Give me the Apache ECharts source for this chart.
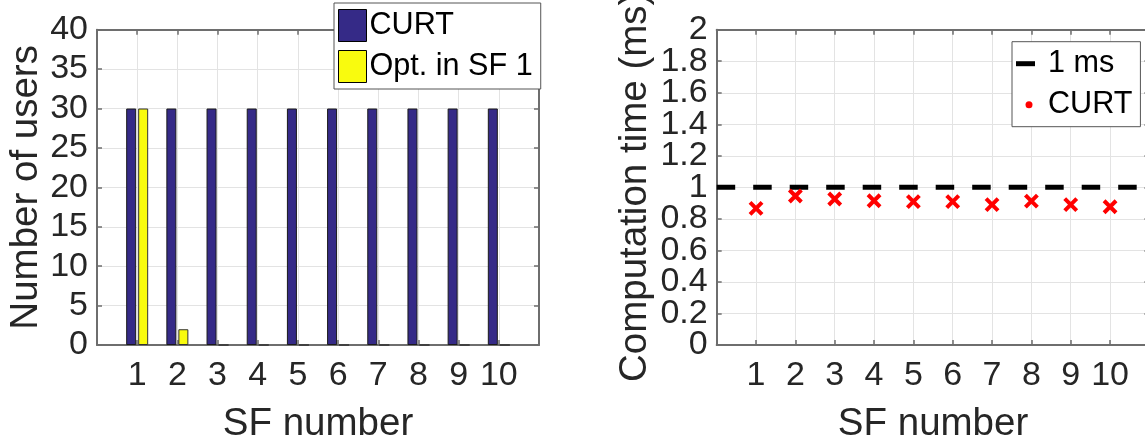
<!DOCTYPE html>
<html><head><meta charset="utf-8">
<script src="https://cdn.jsdelivr.net/npm/echarts@6/dist/echarts.min.js"></script>
<style>html,body{margin:0;padding:0;background:#fff}#c{width:1145px;height:447px}</style>
</head><body><div id="c"></div>
<script>
// ---- data ----
const sfNumbers = ['1','2','3','4','5','6','7','8','9','10'];
const curtUsers = [30,30,30,30,30,30,30,30,30,30];
const optUsers  = [30,2,0,0,0,0,0,0,0,0];
const curtTimes = [0.867,0.945,0.926,0.915,0.909,0.909,0.890,0.913,0.890,0.877];
const thresholdMs = 1;
const usersAxis = {min:0, max:40, interval:5};
const timeAxis  = {min:0, max:2, interval:0.2};

// padded category axis: an empty slot at each end so the axis spans 0..11
const xCats = [''].concat(sfNumbers, ['']);
const pad = arr => [null].concat(arr, [null]);

const FONT = 'Liberation Sans, Arial, Helvetica, sans-serif';
const AX = '#6e6e6e', TXT = '#262626', GRID = '#e3e3e3';
const TICK = 34, LABEL = 38.5, LEG = 30.6;
const fmtNum = v => String(Math.round(v * 1000) / 1000);

function xAx(gi, pos, show) {
  return {
    type:'category', gridIndex:gi, position:pos, data:xCats, boundaryGap:false,
    axisLine:{show:true, onZero:false, lineStyle:{color:AX, width:2}},
    axisTick:{show:true, inside:true, length:5, interval:0, lineStyle:{color:AX, width:1.5}},
    axisLabel:{show:show, interval:0, fontSize:TICK, fontFamily:FONT, color:TXT, margin:14},
    splitLine:{show:show, interval:0, lineStyle:{color:GRID, width:1}},
    name: show ? 'SF number' : '', nameLocation:'middle', nameGap:60,
    nameMoveOverlap:false,
    nameTextStyle:{fontSize:LABEL, fontFamily:FONT, color:TXT}
  };
}
function yAx(gi, pos, show, ax, name, gap, labelOpt) {
  return {
    type:'value', gridIndex:gi, position:pos, min:ax.min, max:ax.max, interval:ax.interval,
    axisLine:{show:true, onZero:false, lineStyle:{color:AX, width:2}},
    axisTick:{show:true, inside:true, length:5, lineStyle:{color:AX, width:1.5}},
    axisLabel:Object.assign({show:show, showMinLabel:true, showMaxLabel:true, margin:9,
               fontSize:TICK, fontFamily:FONT, color:TXT, formatter:fmtNum}, labelOpt || {}),
    splitLine:{show:show, lineStyle:{color:GRID, width:1}},
    name: show ? name : '', nameLocation:'middle', nameGap:gap,
    nameMoveOverlap:false,
    nameTextStyle:{fontSize:LABEL, fontFamily:FONT, color:TXT}
  };
}
// labels-only axis (every other tick of the time axis), so dense labels are not auto-hidden
const evenStep = timeAxis.interval * 2;
const timeLabelAxis = {
  type:'value', gridIndex:1, position:'left', min:timeAxis.min, max:timeAxis.max, interval:evenStep,
  axisLine:{show:false}, axisTick:{show:false}, splitLine:{show:false},
  axisLabel:{show:true, showMinLabel:true, showMaxLabel:true, margin:9,
             fontSize:TICK, fontFamily:FONT, color:TXT, formatter:fmtNum}
};

const chart = echarts.init(document.getElementById('c'), null, {renderer:'canvas'});
chart.setOption({
  animation:false,
  backgroundColor:'#fff',
  grid:[
    {left:97, top:29.7, width:442, height:315.3, containLabel:false, outerBoundsMode:'none'},
    {left:716.7, top:29.7, width:432.7, height:315.3, containLabel:false, outerBoundsMode:'none'}
  ],
  xAxis:[xAx(0,'bottom',true), xAx(0,'top',false), xAx(1,'bottom',true), xAx(1,'top',false)],
  yAxis:[
    yAx(0,'left',true,usersAxis,'Number of users',51),
    yAx(0,'right',false,usersAxis,'',0),
    yAx(1,'left',true,timeAxis,'Computation time (ms)',62,{
      showMinLabel:false, showMaxLabel:false,
      formatter: v => (Math.round(v / timeAxis.interval) % 2 === 1 ? fmtNum(v) : '')
    }),
    yAx(1,'right',false,timeAxis,'',0),
    timeLabelAxis
  ],
  legend:[
    {
      orient:'vertical', left:334, top:3, padding:[6,8,6,4], itemGap:8,
      itemWidth:28, itemHeight:32, selectedMode:false,
      backgroundColor:'#fff', borderColor:'#555', borderWidth:1, borderRadius:0,
      textStyle:{fontSize:LEG, fontFamily:FONT, color:'#000', padding:[0,0,0,-2]},
      data:[
        {name:'CURT', icon:'rect', itemStyle:{color:'#352a87', borderColor:'#000', borderWidth:1}},
        {name:'Opt. in SF 1', icon:'rect', itemStyle:{color:'#f9fb0e', borderColor:'#000', borderWidth:1}}
      ]
    },
    {
      orient:'vertical', left:1012, top:41.7, padding:[6,8,6,4], itemGap:9,
      itemWidth:19, itemHeight:7, selectedMode:false,
      backgroundColor:'#fff', borderColor:'#555', borderWidth:1, borderRadius:0,
      textStyle:{fontSize:LEG, fontFamily:FONT, color:'#000', lineHeight:32, padding:[0,0,0,8]},
      data:[
        {name:'1 ms', icon:'path://M0,0h19v5h-19z', itemStyle:{color:'#000', borderWidth:0}},
        {name:'CURT', icon:'path://M0,0M19,7M9.5,3.5a3.5,3.5 0 1,0 7,0a3.5,3.5 0 1,0 -7,0z', itemStyle:{color:'#ff0000', borderWidth:0}}
      ]
    }
  ],
  series:[
    {
      name:'CURT', type:'bar', xAxisIndex:0, yAxisIndex:0, data:pad(curtUsers),
      barWidth:10, barGap:'20%',
      itemStyle:{color:'#352a87', borderColor:'#1a1a1a', borderWidth:1}
    },
    {
      name:'Opt. in SF 1', type:'bar', xAxisIndex:0, yAxisIndex:0, data:pad(optUsers),
      barWidth:10, barGap:'20%',
      itemStyle:{color:'#f9fb0e', borderColor:'#333', borderWidth:1}
    },
    {
      name:'1 ms', type:'line', xAxisIndex:2, yAxisIndex:2,
      data:xCats.map(() => thresholdMs), symbol:'none', showSymbol:false,
      lineStyle:{color:'#000', width:5, type:[18.5,18], cap:'butt'}, z:3
    },
    {
      name:'CURT', type:'scatter', xAxisIndex:2, yAxisIndex:2, data:pad(curtTimes),
      symbol:'path://M0,0L10,10M10,0L0,10', symbolSize:12,
      itemStyle:{color:'rgba(0,0,0,0)', borderColor:'#ff0000', borderWidth:4, opacity:1}, z:4
    }
  ]
});
</script></body></html>
